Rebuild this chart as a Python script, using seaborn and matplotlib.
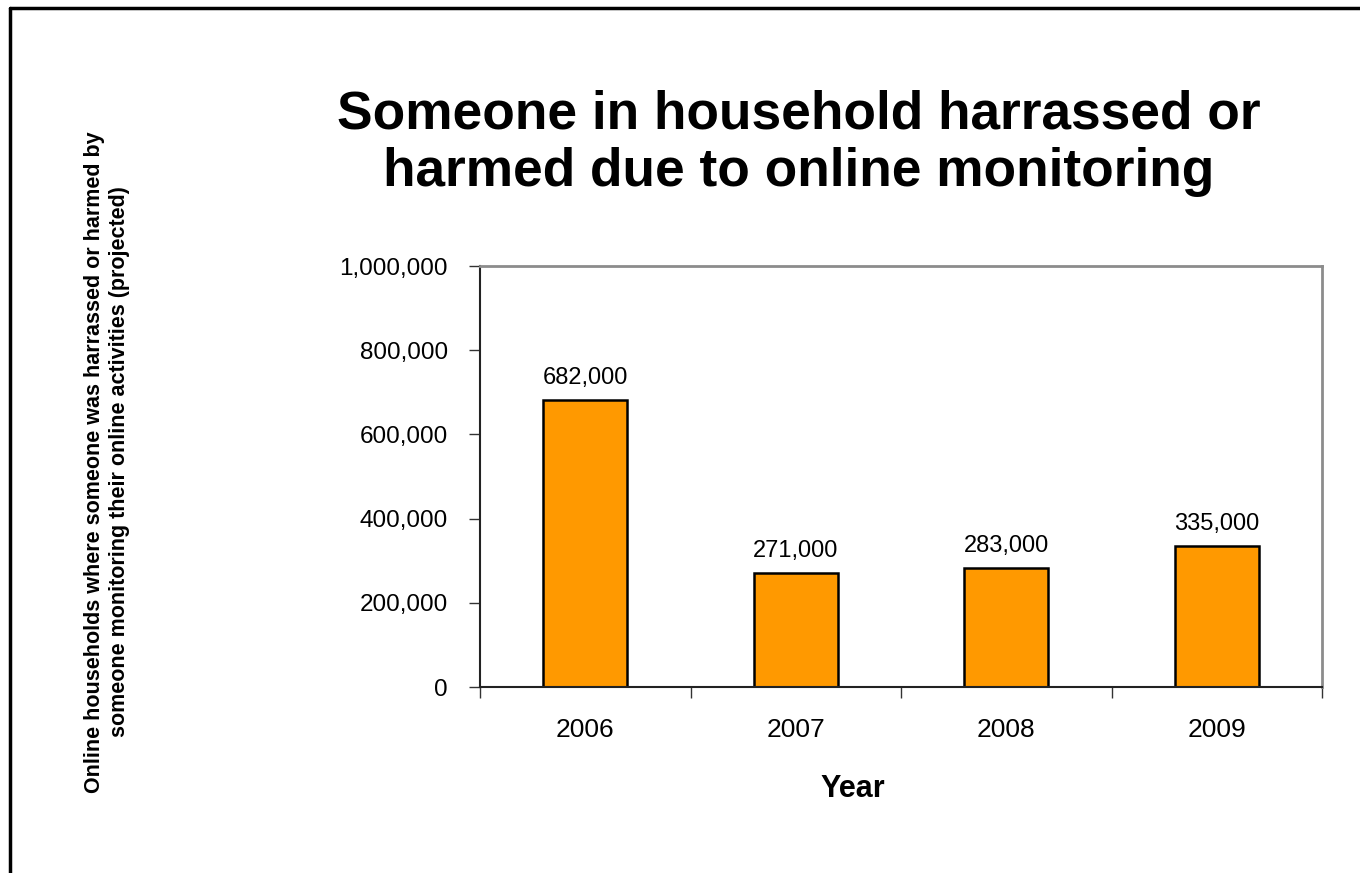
import matplotlib
matplotlib.use("Agg")
import matplotlib.pyplot as plt
from matplotlib.lines import Line2D
from matplotlib.ticker import FuncFormatter, MultipleLocator
import seaborn as sns
import pandas as pd

years = ["2006", "2007", "2008", "2009"]
households = [682000, 271000, 283000, 335000]

sns.set_theme(style="white")
plt.rcParams["font.family"] = ["Liberation Sans", "DejaVu Sans"]
plt.rcParams.update({"text.color": "black", "axes.labelcolor": "black",
                     "xtick.color": "black", "ytick.color": "black"})

df = pd.DataFrame({"Year": years, "Households": households})

fig = plt.figure(figsize=(13.6, 8.73), dpi=100)
ax = fig.add_axes([480 / 1360, 1 - 687 / 873, 842 / 1360, 421 / 873])

sns.barplot(data=df, x="Year", y="Households", color="#FF9900", width=0.40,
            edgecolor="black", linewidth=1.8, saturation=1, ax=ax)

ax.set_ylim(0, 1000000)
ax.set_xlim(-0.5, len(years) - 0.5)
ax.yaxis.set_major_locator(MultipleLocator(200000))
ax.yaxis.set_major_formatter(FuncFormatter(lambda v, p: f"{int(v):,}"))

# category-boundary ticks on x, value ticks on y
ax.set_xticks([i + 0.5 for i in range(-1, len(years))], minor=True)
ax.tick_params(axis="x", which="major", length=0, pad=22, labelsize=19)
ax.tick_params(axis="x", which="minor", length=8, width=1, color="#333333", direction="out", bottom=True)
ax.tick_params(axis="y", which="major", length=8, width=1, color="#333333", direction="out", left=True,
               labelsize=17.5, pad=15)

for side in ["top", "right"]:
    ax.spines[side].set_color("#8c8c8c")
    ax.spines[side].set_linewidth(2)
for side in ["left", "bottom"]:
    ax.spines[side].set_color("#222222")
    ax.spines[side].set_linewidth(1.5)

for i, v in enumerate(households):
    ax.text(i, v + 25000, f"{v:,}", ha="center", va="bottom", fontsize=17)

ax.set_xlabel("Year", fontsize=22, fontweight="bold")
ax.xaxis.set_label_coords((853 - 480) / 842, -(789 - 687) / 421)
ax.xaxis.label.set_va("center")
ax.set_ylabel("")

fig.text(107 / 1360, 1 - 462 / 873,
         "Online households where someone was harrassed or harmed by\n"
         "someone monitoring their online activities (projected)",
         rotation=90, ha="center", va="center", fontsize=15.5, fontweight="bold",
         linespacing=1.3)

fig.text(799 / 1360, 1 - 143 / 873,
         "Someone in household harrassed or\nharmed due to online monitoring",
         ha="center", va="center", fontsize=38.3, fontweight="bold", linespacing=1.2)

# outer frame along the top and left edges
fig.add_artist(Line2D([10 / 1360, 10 / 1360], [0, 1 - 8 / 873], transform=fig.transFigure,
                      color="black", linewidth=2.5))
fig.add_artist(Line2D([10 / 1360, 1], [1 - 8 / 873, 1 - 8 / 873], transform=fig.transFigure,
                      color="black", linewidth=2.5))

fig.savefig("out.png", dpi=100, facecolor="white")
